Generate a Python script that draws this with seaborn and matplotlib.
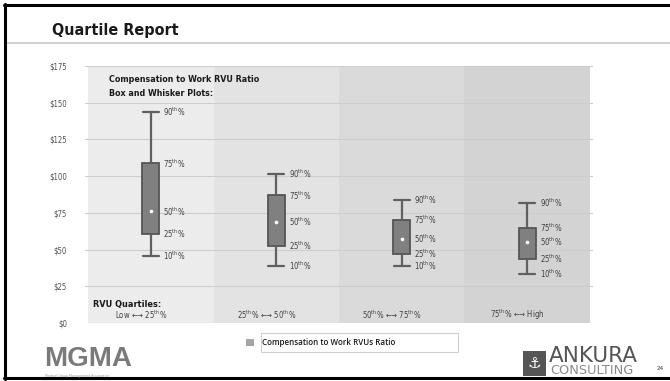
import numpy as np
import pandas as pd
import matplotlib
matplotlib.use("Agg")
import matplotlib.pyplot as plt
from matplotlib import font_manager as fm
import seaborn as sns
from matplotlib.patches import Patch, Rectangle
from matplotlib.lines import Line2D

# ---------------- data ----------------
quartiles = ["Low \u2190\u2192 25$^{\\mathrm{th}}$%",
             "25$^{\\mathrm{th}}$% \u2190\u2192 50$^{\\mathrm{th}}$%",
             "50$^{\\mathrm{th}}$% \u2190\u2192 75$^{\\mathrm{th}}$%",
             "75$^{\\mathrm{th}}$% \u2190\u2192 High"]
p10 = [45.5, 38.8, 38.9, 33.3]
p25 = [60.4, 52.5, 46.9, 43.7]
p50 = [76.0, 68.8, 57.3, 55.0]
p75 = [108.7, 86.9, 70.0, 64.5]
p90 = [144.0, 101.4, 84.0, 81.7]
pct_labels = ["10", "25", "50", "75", "90"]
yticks = [0, 25, 50, 75, 100, 125, 150, 175]
series_name = "Compensation to Work RVUs Ratio"

rows = []
for i, q in enumerate(quartiles):
    for v in (p10[i], p25[i], p50[i], p75[i], p90[i]):
        rows.append({"quartile": q, "value": v})
df = pd.DataFrame(rows)

# ---------------- style ----------------
sns.set_theme(style="white")
names = {f.name for f in fm.fontManager.ttflist}
if "Liberation Sans Narrow" in names:
    NARROW_NAME = "Liberation Sans Narrow"
    STRETCH = "normal"
else:
    NARROW_NAME = "DejaVu Sans"
    STRETCH = "condensed"
plt.rcParams["font.family"] = [NARROW_NAME, "DejaVu Sans"]
plt.rcParams["font.stretch"] = STRETCH
plt.rcParams["mathtext.fontset"] = "custom"
plt.rcParams["mathtext.rm"] = NARROW_NAME + (":stretch=condensed" if STRETCH == "condensed" else "")
plt.rcParams["mathtext.it"] = NARROW_NAME + ":italic"
plt.rcParams["mathtext.bf"] = NARROW_NAME + ":bold"

W, H = 670, 381
fig = plt.figure(figsize=(W / 100, H / 100), dpi=100)
fig.patch.set_facecolor("white")

def fx(px):
    return px / W

def fy(py):
    return 1 - py / H

ax = fig.add_axes([fx(85), fy(323), fx(593) - fx(85), fy(66) - fy(323)])
ax.set_facecolor("white")

band_colors = ["#ececec", "#e3e3e3", "#dadada", "#d3d3d3"]
for i, c in enumerate(band_colors):
    ax.axvspan(i - 0.5, i + 0.5, ymin=0, ymax=0.995, color=c, zorder=0, lw=0)

sns.boxplot(data=df, x="quartile", y="value", order=quartiles, whis=(0, 100),
            width=0.135, color="#808080", linecolor="#555555", linewidth=1.3,
            showfliers=False, saturation=1, ax=ax,
            medianprops={"linewidth": 0, "alpha": 0},
            whiskerprops={"linewidth": 1.6, "color": "#606060"},
            capprops={"linewidth": 1.6, "color": "#606060"},
            capwidths=0.13)

ax.scatter(range(len(quartiles)), p50, s=7, color="white", zorder=6, lw=0)

# percentile labels next to boxes
for i in range(len(quartiles)):
    for lab, v in zip(pct_labels, (p10[i], p25[i], p50[i], p75[i], p90[i])):
        ax.text(i + 0.1, v, lab + "$^{\\mathrm{th}}$%", fontsize=5.6, color="#404040",
                ha="left", va="center", zorder=7)

# category labels inside the plot
for i, q in enumerate(quartiles):
    ax.text(i - 0.08, 5.5, q, fontsize=5.6, color="#404040", ha="center", va="center")

ax.set_xlim(-0.524, 3.524)
ax.set_ylim(0, 175)
ax.set_yticks(yticks)
ax.set_yticklabels(["\\$" + str(v) for v in yticks], fontsize=5.6, color="#505050")
ax.tick_params(axis="y", length=0, pad=13)
ax.set_xticks([])
ax.set_xlabel("")
ax.set_ylabel("")
ax.yaxis.grid(True, color="#cdcdcd", lw=0.8)
ax.set_axisbelow(True)
for s in ax.spines.values():
    s.set_visible(False)

# annotations inside plot
ax.text(-0.33, 166, "Compensation to Work RVU Ratio", fontsize=6.4, fontweight="bold",
        color="#1a1a1a", ha="left", va="center")
ax.text(-0.33, 156, "Box and Whisker Plots:", fontsize=6.4, fontweight="bold",
        color="#1a1a1a", ha="left", va="center")
ax.text(-0.46, 12.3, "RVU Quartiles:", fontsize=6.6, fontweight="bold",
        color="#1a1a1a", ha="left", va="center")

# legend (marker sits left of the frame, as in the reference)
leg = fig.legend(handles=[Patch(facecolor="#a6a6a6", edgecolor="none")],
                 labels=[series_name], loc="center left",
                 bbox_to_anchor=(fx(244), fy(342.5)), frameon=False,
                 prop={"family": ["Open Sans", "DejaVu Sans"], "size": 5.8,
                       "weight": "semibold", "stretch": "normal"},
                 handlelength=0.9, handleheight=0.9, borderpad=0.3, handletextpad=1.0,
                 borderaxespad=0)
for t in leg.get_texts():
    t.set_color("#1a1a1a")
fig.add_artist(Rectangle((fx(261), fy(352)), fx(458) - fx(261), fy(333) - fy(352),
                         transform=fig.transFigure, facecolor="none",
                         edgecolor="#d0d0d0", lw=0.8))

# slide chrome
fig.text(fx(52), fy(31), "Quartile Report", fontsize=11.5, fontweight="bold",
         color="#1a1a1a", ha="left", va="center")
fig.add_artist(Line2D([fx(5), 1], [fy(43), fy(43)], color="#c8c8c8", lw=1.2))
fig.add_artist(Line2D([fx(4.5), fx(4.5)], [fy(4), fy(379)], color="black", lw=2.2))
fig.add_artist(Line2D([fx(4), 1], [fy(4.5), fy(4.5)], color="black", lw=2.2))
fig.add_artist(Line2D([fx(4), 1], [fy(378), fy(378)], color="black", lw=2.2))

# MGMA logo
fig.text(fx(44), fy(359), "MGMA", fontsize=20, fontweight="bold", color="#7a7a7a",
         family=["Liberation Sans", "DejaVu Sans"], stretch="normal", ha="left", va="center")
fig.text(fx(45), fy(375.5), "Medical Group Management Association", fontsize=2.6,
         color="#9a9a9a", ha="left", va="center", family=["DejaVu Sans"])

# ANKURA logo
fig.add_artist(Rectangle((fx(523), fy(376)), fx(546) - fx(523), fy(351) - fy(376),
                         transform=fig.transFigure, color="#555555", lw=0))
fig.text(fx(534.5), fy(363.5), "\u2693", fontsize=11, color="white", ha="center", va="center",
         family=["DejaVu Sans"], stretch="normal")
fig.text(fx(549), fy(356), "ANKURA", fontsize=15.5, color="#555555", ha="left",
         va="center", family=["DejaVu Sans"], stretch="normal")
fig.text(fx(550), fy(371), "CONSULTING", fontsize=9.3, color="#8a8a8a", ha="left",
         va="center", family=["DejaVu Sans"], stretch="normal")
fig.text(fx(660), fy(368), "24", fontsize=4.5, color="#333333", ha="center", va="center")

fig.savefig("out.png", dpi=100, facecolor="white")
